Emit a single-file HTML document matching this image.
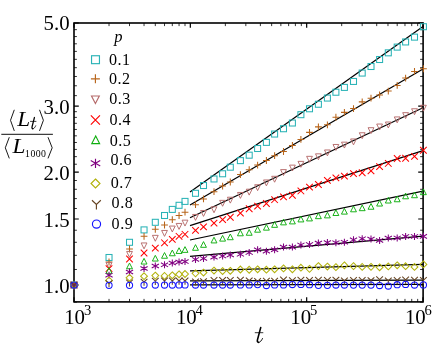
<!DOCTYPE html>
<html><head><meta charset="utf-8"><title>plot</title>
<style>html,body{margin:0;padding:0;background:#fff}body{width:436px;height:354px;overflow:hidden;font-family:"Liberation Serif",serif}svg{display:block;will-change:transform}</style>
</head><body>
<svg width="436" height="354" viewBox="0 0 436 354">
<rect width="436" height="354" fill="#fff"/>
<path d="M74 302v-4.7M74 23v4.7M190.33 302v-4.7M190.33 23v4.7M306.67 302v-4.7M306.67 23v4.7M423 302v-4.7M423 23v4.7M74 285h4.8M423 285h-4.8M74 218.99h4.8M423 218.99h-4.8M74 172.16h4.8M423 172.16h-4.8M74 106.16h4.8M423 106.16h-4.8M74 23h4.8M423 23h-4.8" stroke="#000" stroke-width="1.2" fill="none"/>
<path d="M109.02 302v-3.1M109.02 23v3.1M129.51 302v-3.1M129.51 23v3.1M144.04 302v-3.1M144.04 23v3.1M155.31 302v-3.1M155.31 23v3.1M164.52 302v-3.1M164.52 23v3.1M172.31 302v-3.1M172.31 23v3.1M179.06 302v-3.1M179.06 23v3.1M185.01 302v-3.1M185.01 23v3.1M225.35 302v-3.1M225.35 23v3.1M245.84 302v-3.1M245.84 23v3.1M260.37 302v-3.1M260.37 23v3.1M271.65 302v-3.1M271.65 23v3.1M280.86 302v-3.1M280.86 23v3.1M288.65 302v-3.1M288.65 23v3.1M295.39 302v-3.1M295.39 23v3.1M301.34 302v-3.1M301.34 23v3.1M341.69 302v-3.1M341.69 23v3.1M362.17 302v-3.1M362.17 23v3.1M376.71 302v-3.1M376.71 23v3.1M387.98 302v-3.1M387.98 23v3.1M397.19 302v-3.1M397.19 23v3.1M404.98 302v-3.1M404.98 23v3.1M411.73 302v-3.1M411.73 23v3.1M417.68 302v-3.1M417.68 23v3.1M74 302.15h2.9M423 302.15h-2.9M74 269.48h2.9M423 269.48h-2.9M74 255.32h2.9M423 255.32h-2.9M74 242.29h2.9M423 242.29h-2.9M74 230.23h2.9M423 230.23h-2.9M74 208.49h2.9M423 208.49h-2.9M74 198.62h2.9M423 198.62h-2.9M74 189.31h2.9M423 189.31h-2.9M74 180.51h2.9M423 180.51h-2.9M74 164.22h2.9M423 164.22h-2.9M74 156.65h2.9M423 156.65h-2.9M74 149.41h2.9M423 149.41h-2.9M74 142.48h2.9M423 142.48h-2.9M74 135.84h2.9M423 135.84h-2.9M74 129.45h2.9M423 129.45h-2.9M74 123.31h2.9M423 123.31h-2.9M74 117.39h2.9M423 117.39h-2.9M74 111.68h2.9M423 111.68h-2.9M74 95.65h2.9M423 95.65h-2.9M74 85.78h2.9M423 85.78h-2.9M74 76.48h2.9M423 76.48h-2.9M74 67.68h2.9M423 67.68h-2.9M74 59.33h2.9M423 59.33h-2.9M74 51.38h2.9M423 51.38h-2.9M74 43.81h2.9M423 43.81h-2.9M74 36.57h2.9M423 36.57h-2.9M74 29.65h2.9M423 29.65h-2.9" stroke="#000" stroke-width="0.8" fill="none"/>
<rect x="74" y="23" width="349.1" height="278.9" fill="none" stroke="#000" stroke-width="1.6"/>
<path d="M190 192 L423 26.6" stroke="#000" stroke-width="1.25" fill="none"/>
<path d="M190 205 L423 69" stroke="#000" stroke-width="1.25" fill="none"/>
<path d="M190 217.8 L423 107.8" stroke="#000" stroke-width="1.25" fill="none"/>
<path d="M190 225.6 L423 150.7" stroke="#000" stroke-width="1.25" fill="none"/>
<path d="M190 240 L423 191.2" stroke="#000" stroke-width="1.25" fill="none"/>
<path d="M190 256.3 L423 236.1" stroke="#000" stroke-width="1.25" fill="none"/>
<path d="M190 270.9 L423 264.4" stroke="#000" stroke-width="1.25" fill="none"/>
<path d="M190 280.8 L423 280.1" stroke="#000" stroke-width="1.25" fill="none"/>
<path d="M190 284.8 L423 284.4" stroke="#000" stroke-width="1.25" fill="none"/>
<g stroke="#2ab3b6" stroke-width="1.05" fill="none"><rect x="71" y="282" width="6" height="6"/><rect x="106.02" y="254.5" width="6" height="6"/><rect x="126.51" y="239.3" width="6" height="6"/><rect x="141.04" y="226.9" width="6" height="6"/><rect x="152.31" y="219.3" width="6" height="6"/><rect x="161.52" y="212.5" width="6" height="6"/><rect x="169.31" y="206.4" width="6" height="6"/><rect x="176.06" y="202.3" width="6" height="6"/><rect x="182.01" y="198.4" width="6" height="6"/><rect x="192.5" y="190.3" width="6" height="6"/><rect x="200.5" y="182.52" width="6" height="6"/><rect x="211" y="175.96" width="6" height="6"/><rect x="219.6" y="170.76" width="6" height="6"/><rect x="227.3" y="164.19" width="6" height="6"/><rect x="237.4" y="157.62" width="6" height="6"/><rect x="246.2" y="152.18" width="6" height="6"/><rect x="254.6" y="145.51" width="6" height="6"/><rect x="263.4" y="139.37" width="6" height="6"/><rect x="271.6" y="131.04" width="6" height="6"/><rect x="280.5" y="125.73" width="6" height="6"/><rect x="289.4" y="120.01" width="6" height="6"/><rect x="297.9" y="111.68" width="6" height="6"/><rect x="306.5" y="105.77" width="6" height="6"/><rect x="315.4" y="101.25" width="6" height="6"/><rect x="324.4" y="95.06" width="6" height="6"/><rect x="332.9" y="89.23" width="6" height="6"/><rect x="341.4" y="84.4" width="6" height="6"/><rect x="350.5" y="78.44" width="6" height="6"/><rect x="359.2" y="70.06" width="6" height="6"/><rect x="368" y="63.51" width="6" height="6"/><rect x="376.6" y="56.51" width="6" height="6"/><rect x="385.3" y="49.83" width="6" height="6"/><rect x="394.2" y="44.11" width="6" height="6"/><rect x="402.6" y="38.95" width="6" height="6"/><rect x="411.5" y="34.13" width="6" height="6"/><rect x="420.4" y="23.72" width="6" height="6"/></g>
<g stroke="#b8651b" stroke-width="1.05" fill="none"><path d="M70.6 285H77.4M74 281.6V288.4"/><path d="M105.62 262H112.42M109.02 258.6V265.4"/><path d="M126.11 249H132.91M129.51 245.6V252.4"/><path d="M140.64 236.3H147.44M144.04 232.9V239.7"/><path d="M151.91 229.3H158.71M155.31 225.9V232.7"/><path d="M161.12 225H167.92M164.52 221.6V228.4"/><path d="M168.91 219.7H175.71M172.31 216.3V223.1"/><path d="M175.66 215.5H182.46M179.06 212.1V218.9"/><path d="M181.61 212.2H188.41M185.01 208.8V215.6"/><path d="M192.1 204.69H198.9M195.5 201.29V208.09"/><path d="M200.1 198.92H206.9M203.5 195.52V202.32"/><path d="M210.6 191.69H217.4M214 188.29V195.09"/><path d="M219.2 186.07H226M222.6 182.67V189.47"/><path d="M226.9 181.98H233.7M230.3 178.58V185.38"/><path d="M237 174.58H243.8M240.4 171.18V177.98"/><path d="M245.8 169.65H252.6M249.2 166.25V173.05"/><path d="M254.2 165.04H261M257.6 161.64V168.44"/><path d="M263 160.51H269.8M266.4 157.11V163.91"/><path d="M271.2 155.72H278M274.6 152.32V159.12"/><path d="M280.1 151.52H286.9M283.5 148.12V154.92"/><path d="M289 145.43H295.8M292.4 142.03V148.83"/><path d="M297.5 139.47H304.3M300.9 136.07V142.87"/><path d="M306.1 132.35H312.9M309.5 128.95V135.75"/><path d="M315 126.85H321.8M318.4 123.45V130.25"/><path d="M324 124.8H330.8M327.4 121.4V128.2"/><path d="M332.5 117.24H339.3M335.9 113.84V120.64"/><path d="M341 112.38H347.8M344.4 108.98V115.78"/><path d="M350.1 108.57H356.9M353.5 105.17V111.97"/><path d="M358.8 101.89H365.6M362.2 98.49V105.29"/><path d="M367.6 98.15H374.4M371 94.75V101.55"/><path d="M376.2 94.93H383M379.6 91.53V98.33"/><path d="M384.9 91.05H391.7M388.3 87.65V94.45"/><path d="M393.8 85.46H400.6M397.2 82.06V88.86"/><path d="M402.2 78.06H409M405.6 74.66V81.46"/><path d="M411.1 71.46H417.9M414.5 68.06V74.86"/><path d="M420 68.77H426.8M423.4 65.37V72.17"/></g>
<g stroke="#b56a6a" stroke-width="0.95" fill="none"><path d="M74 289.35L71.1 283.45L76.9 283.45Z"/><path d="M109.02 268.55L106.12 262.65L111.92 262.65Z"/><path d="M129.51 257.35L126.61 251.45L132.41 251.45Z"/><path d="M144.04 248.85L141.14 242.95L146.94 242.95Z"/><path d="M155.31 241.25L152.41 235.35L158.21 235.35Z"/><path d="M164.52 236.35L161.62 230.45L167.42 230.45Z"/><path d="M172.31 231.95L169.41 226.05L175.21 226.05Z"/><path d="M179.06 229.35L176.16 223.45L181.96 223.45Z"/><path d="M185.01 226.05L182.11 220.15L187.91 220.15Z"/><path d="M195.5 220.35L192.6 214.45L198.4 214.45Z"/><path d="M203.5 216.38L200.6 210.48L206.4 210.48Z"/><path d="M214 212.72L211.1 206.82L216.9 206.82Z"/><path d="M222.6 206.26L219.7 200.36L225.5 200.36Z"/><path d="M230.3 203.12L227.4 197.22L233.2 197.22Z"/><path d="M240.4 198.36L237.5 192.46L243.3 192.46Z"/><path d="M249.2 195.1L246.3 189.2L252.1 189.2Z"/><path d="M257.6 190.64L254.7 184.74L260.5 184.74Z"/><path d="M266.4 185.88L263.5 179.98L269.3 179.98Z"/><path d="M274.6 182.21L271.7 176.31L277.5 176.31Z"/><path d="M283.5 175.51L280.6 169.61L286.4 169.61Z"/><path d="M292.4 171.01L289.5 165.11L295.3 165.11Z"/><path d="M300.9 167.29L298 161.39L303.8 161.39Z"/><path d="M309.5 162.23L306.6 156.33L312.4 156.33Z"/><path d="M318.4 159.73L315.5 153.83L321.3 153.83Z"/><path d="M327.4 155.88L324.5 149.98L330.3 149.98Z"/><path d="M335.9 150.37L333 144.47L338.8 144.47Z"/><path d="M344.4 148.06L341.5 142.16L347.3 142.16Z"/><path d="M353.5 144.86L350.6 138.96L356.4 138.96Z"/><path d="M362.2 138.65L359.3 132.75L365.1 132.75Z"/><path d="M371 133.6L368.1 127.7L373.9 127.7Z"/><path d="M379.6 129.94L376.7 124.04L382.5 124.04Z"/><path d="M388.3 127.93L385.4 122.03L391.2 122.03Z"/><path d="M397.2 122.83L394.3 116.93L400.1 116.93Z"/><path d="M405.6 118.56L402.7 112.66L408.5 112.66Z"/><path d="M414.5 114.66L411.6 108.76L417.4 108.76Z"/><path d="M423.4 111.16L420.5 105.26L426.3 105.26Z"/></g>
<g stroke="#ff0000" stroke-width="1.05" fill="none"><path d="M70.7 281.7L77.3 288.3M70.7 288.3L77.3 281.7"/><path d="M105.72 265.3L112.32 271.9M105.72 271.9L112.32 265.3"/><path d="M126.21 255.7L132.81 262.3M126.21 262.3L132.81 255.7"/><path d="M140.74 249.7L147.34 256.3M140.74 256.3L147.34 249.7"/><path d="M152.01 244.8L158.61 251.4M152.01 251.4L158.61 244.8"/><path d="M161.22 239.5L167.82 246.1M161.22 246.1L167.82 239.5"/><path d="M169.01 236.1L175.61 242.7M169.01 242.7L175.61 236.1"/><path d="M175.76 233L182.36 239.6M175.76 239.6L182.36 233"/><path d="M181.71 231L188.31 237.6M181.71 237.6L188.31 231"/><path d="M192.2 227.13L198.8 233.73M192.2 233.73L198.8 227.13"/><path d="M200.2 223.56L206.8 230.16M200.2 230.16L206.8 223.56"/><path d="M210.7 219.88L217.3 226.48M210.7 226.48L217.3 219.88"/><path d="M219.3 216.32L225.9 222.92M219.3 222.92L225.9 216.32"/><path d="M227 213.95L233.6 220.55M227 220.55L233.6 213.95"/><path d="M237.1 209.8L243.7 216.4M237.1 216.4L243.7 209.8"/><path d="M245.9 205.47L252.5 212.07M245.9 212.07L252.5 205.47"/><path d="M254.3 202.77L260.9 209.37M254.3 209.37L260.9 202.77"/><path d="M263.1 200.24L269.7 206.84M263.1 206.84L269.7 200.24"/><path d="M271.3 196.4L277.9 203M271.3 203L277.9 196.4"/><path d="M280.2 193.64L286.8 200.24M280.2 200.24L286.8 193.64"/><path d="M289.1 191.98L295.7 198.58M289.1 198.58L295.7 191.98"/><path d="M297.6 187.65L304.2 194.25M297.6 194.25L304.2 187.65"/><path d="M306.2 183.89L312.8 190.49M306.2 190.49L312.8 183.89"/><path d="M315.1 181.22L321.7 187.82M315.1 187.82L321.7 181.22"/><path d="M324.1 177.13L330.7 183.73M324.1 183.73L330.7 177.13"/><path d="M332.6 174.6L339.2 181.2M332.6 181.2L339.2 174.6"/><path d="M341.1 172.87L347.7 179.47M341.1 179.47L347.7 172.87"/><path d="M350.2 170.34L356.8 176.94M350.2 176.94L356.8 170.34"/><path d="M358.9 169.44L365.5 176.04M358.9 176.04L365.5 169.44"/><path d="M367.7 167.62L374.3 174.22M367.7 174.22L374.3 167.62"/><path d="M376.3 163.35L382.9 169.95M376.3 169.95L382.9 163.35"/><path d="M385 160.15L391.6 166.75M385 166.75L391.6 160.15"/><path d="M393.9 155.19L400.5 161.79M393.9 161.79L400.5 155.19"/><path d="M402.3 154.99L408.9 161.59M402.3 161.59L408.9 154.99"/><path d="M411.2 153.03L417.8 159.63M411.2 159.63L417.8 153.03"/><path d="M420.1 146.97L426.7 153.57M420.1 153.57L426.7 146.97"/></g>
<g stroke="#0fae0f" stroke-width="0.95" fill="none"><path d="M74 280.85L71.05 286.55L76.95 286.55Z"/><path d="M109.02 267.65L106.07 273.35L111.97 273.35Z"/><path d="M129.51 263.05L126.56 268.75L132.46 268.75Z"/><path d="M144.04 258.35L141.09 264.05L146.99 264.05Z"/><path d="M155.31 255.35L152.36 261.05L158.26 261.05Z"/><path d="M164.52 252.55L161.57 258.25L167.47 258.25Z"/><path d="M172.31 250.05L169.36 255.75L175.26 255.75Z"/><path d="M179.06 247.75L176.11 253.45L182.01 253.45Z"/><path d="M185.01 246.65L182.06 252.35L187.96 252.35Z"/><path d="M195.5 244.6L192.55 250.3L198.45 250.3Z"/><path d="M203.5 241.62L200.55 247.32L206.45 247.32Z"/><path d="M214 237.22L211.05 242.92L216.95 242.92Z"/><path d="M222.6 235.42L219.65 241.12L225.55 241.12Z"/><path d="M230.3 234.01L227.35 239.71L233.25 239.71Z"/><path d="M240.4 230.09L237.45 235.79L243.35 235.79Z"/><path d="M249.2 229.55L246.25 235.25L252.15 235.25Z"/><path d="M257.6 226.49L254.65 232.19L260.55 232.19Z"/><path d="M266.4 224.45L263.45 230.15L269.35 230.15Z"/><path d="M274.6 221.63L271.65 227.33L277.55 227.33Z"/><path d="M283.5 219.17L280.55 224.87L286.45 224.87Z"/><path d="M292.4 218.2L289.45 223.9L295.35 223.9Z"/><path d="M300.9 216.22L297.95 221.92L303.85 221.92Z"/><path d="M309.5 215.22L306.55 220.92L312.45 220.92Z"/><path d="M318.4 212.96L315.45 218.66L321.35 218.66Z"/><path d="M327.4 212.17L324.45 217.87L330.35 217.87Z"/><path d="M335.9 209.79L332.95 215.49L338.85 215.49Z"/><path d="M344.4 208.41L341.45 214.11L347.35 214.11Z"/><path d="M353.5 206.11L350.55 211.81L356.45 211.81Z"/><path d="M362.2 204.98L359.25 210.68L365.15 210.68Z"/><path d="M371 203.54L368.05 209.24L373.95 209.24Z"/><path d="M379.6 200.34L376.65 206.04L382.55 206.04Z"/><path d="M388.3 197.32L385.35 203.02L391.25 203.02Z"/><path d="M397.2 196.05L394.25 201.75L400.15 201.75Z"/><path d="M405.6 193.09L402.65 198.79L408.55 198.79Z"/><path d="M414.5 192.03L411.55 197.73L417.45 197.73Z"/><path d="M423.4 188.97L420.45 194.67L426.35 194.67Z"/></g>
<g stroke="#800080" stroke-width="1.05" fill="none"><path d="M74 281.5V288.5M70.4 282.95L77.6 287.05M70.4 287.05L77.6 282.95"/><path d="M109.02 271.7V278.7M105.42 273.15L112.62 277.25M105.42 277.25L112.62 273.15"/><path d="M129.51 268.5V275.5M125.91 269.95L133.11 274.05M125.91 274.05L133.11 269.95"/><path d="M144.04 265V272M140.44 266.45L147.64 270.55M140.44 270.55L147.64 266.45"/><path d="M155.31 262.5V269.5M151.71 263.95L158.91 268.05M151.71 268.05L158.91 263.95"/><path d="M164.52 261.3V268.3M160.92 262.75L168.12 266.85M160.92 266.85L168.12 262.75"/><path d="M172.31 259.5V266.5M168.71 260.95L175.91 265.05M168.71 265.05L175.91 260.95"/><path d="M179.06 258.5V265.5M175.46 259.95L182.66 264.05M175.46 264.05L182.66 259.95"/><path d="M185.01 258.1V265.1M181.41 259.55L188.61 263.65M181.41 263.65L188.61 259.55"/><path d="M195.5 255.92V262.92M191.9 257.37L199.1 261.47M191.9 261.47L199.1 257.37"/><path d="M203.5 254.93V261.93M199.9 256.38L207.1 260.48M199.9 260.48L207.1 256.38"/><path d="M214 253.62V260.62M210.4 255.07L217.6 259.17M210.4 259.17L217.6 255.07"/><path d="M222.6 252.57V259.57M219 254.02L226.2 258.12M219 258.12L226.2 254.02"/><path d="M230.3 251.51V258.51M226.7 252.96L233.9 257.06M226.7 257.06L233.9 252.96"/><path d="M240.4 250.83V257.83M236.8 252.28L244 256.38M236.8 256.38L244 252.28"/><path d="M249.2 249.07V256.07M245.6 250.52L252.8 254.62M245.6 254.62L252.8 250.52"/><path d="M257.6 246.34V253.34M254 247.79L261.2 251.89M254 251.89L261.2 247.79"/><path d="M266.4 247.68V254.68M262.8 249.13L270 253.23M262.8 253.23L270 249.13"/><path d="M274.6 246.27V253.27M271 247.72L278.2 251.82M271 251.82L278.2 247.72"/><path d="M283.5 243.59V250.59M279.9 245.04L287.1 249.14M279.9 249.14L287.1 245.04"/><path d="M292.4 243.62V250.62M288.8 245.07L296 249.17M288.8 249.17L296 245.07"/><path d="M300.9 241.39V248.39M297.3 242.84L304.5 246.94M297.3 246.94L304.5 242.84"/><path d="M309.5 240.94V247.94M305.9 242.39L313.1 246.49M305.9 246.49L313.1 242.39"/><path d="M318.4 239.47V246.47M314.8 240.92L322 245.02M314.8 245.02L322 240.92"/><path d="M327.4 239.09V246.09M323.8 240.54L331 244.64M323.8 244.64L331 240.54"/><path d="M335.9 239.15V246.15M332.3 240.6L339.5 244.7M332.3 244.7L339.5 240.6"/><path d="M344.4 238.71V245.71M340.8 240.16L348 244.26M340.8 244.26L348 240.16"/><path d="M353.5 236.33V243.33M349.9 237.78L357.1 241.88M349.9 241.88L357.1 237.78"/><path d="M362.2 235.17V242.17M358.6 236.62L365.8 240.72M358.6 240.72L365.8 236.62"/><path d="M371 235.61V242.61M367.4 237.06L374.6 241.16M367.4 241.16L374.6 237.06"/><path d="M379.6 236.96V243.96M376 238.41L383.2 242.51M376 242.51L383.2 238.41"/><path d="M388.3 234.61V241.61M384.7 236.06L391.9 240.16M384.7 240.16L391.9 236.06"/><path d="M397.2 234.44V241.44M393.6 235.89L400.8 239.99M393.6 239.99L400.8 235.89"/><path d="M405.6 232.91V239.91M402 234.36L409.2 238.46M402 238.46L409.2 234.36"/><path d="M414.5 232.94V239.94M410.9 234.39L418.1 238.49M410.9 238.49L418.1 234.39"/><path d="M423.4 232.87V239.87M419.8 234.32L427 238.42M419.8 238.42L427 234.32"/></g>
<g stroke="#b2b20c" stroke-width="1.05" fill="none"><path d="M74 281.6L77.4 285L74 288.4L70.6 285Z"/><path d="M109.02 277L112.42 280.4L109.02 283.8L105.62 280.4Z"/><path d="M129.51 274.4L132.91 277.8L129.51 281.2L126.11 277.8Z"/><path d="M144.04 272.8L147.44 276.2L144.04 279.6L140.64 276.2Z"/><path d="M155.31 272.2L158.71 275.6L155.31 279L151.91 275.6Z"/><path d="M164.52 272.5L167.92 275.9L164.52 279.3L161.12 275.9Z"/><path d="M172.31 271.9L175.71 275.3L172.31 278.7L168.91 275.3Z"/><path d="M179.06 270.9L182.46 274.3L179.06 277.7L175.66 274.3Z"/><path d="M185.01 270.6L188.41 274L185.01 277.4L181.61 274Z"/><path d="M195.5 269.95L198.9 273.35L195.5 276.75L192.1 273.35Z"/><path d="M203.5 269.12L206.9 272.52L203.5 275.92L200.1 272.52Z"/><path d="M214 267.13L217.4 270.53L214 273.93L210.6 270.53Z"/><path d="M222.6 267.69L226 271.09L222.6 274.49L219.2 271.09Z"/><path d="M230.3 267.38L233.7 270.78L230.3 274.18L226.9 270.78Z"/><path d="M240.4 266.09L243.8 269.49L240.4 272.89L237 269.49Z"/><path d="M249.2 266.35L252.6 269.75L249.2 273.15L245.8 269.75Z"/><path d="M257.6 265.91L261 269.31L257.6 272.71L254.2 269.31Z"/><path d="M266.4 266.27L269.8 269.67L266.4 273.07L263 269.67Z"/><path d="M274.6 265.94L278 269.34L274.6 272.74L271.2 269.34Z"/><path d="M283.5 264.99L286.9 268.39L283.5 271.79L280.1 268.39Z"/><path d="M292.4 265.94L295.8 269.34L292.4 272.74L289 269.34Z"/><path d="M300.9 264.31L304.3 267.71L300.9 271.11L297.5 267.71Z"/><path d="M309.5 265.47L312.9 268.87L309.5 272.27L306.1 268.87Z"/><path d="M318.4 262.72L321.8 266.12L318.4 269.52L315 266.12Z"/><path d="M327.4 263.17L330.8 266.57L327.4 269.97L324 266.57Z"/><path d="M335.9 263.73L339.3 267.13L335.9 270.53L332.5 267.13Z"/><path d="M344.4 261.99L347.8 265.39L344.4 268.79L341 265.39Z"/><path d="M353.5 262.74L356.9 266.14L353.5 269.54L350.1 266.14Z"/><path d="M362.2 263.5L365.6 266.9L362.2 270.3L358.8 266.9Z"/><path d="M371 263.45L374.4 266.85L371 270.25L367.6 266.85Z"/><path d="M379.6 263.91L383 267.31L379.6 270.71L376.2 267.31Z"/><path d="M388.3 263.07L391.7 266.47L388.3 269.87L384.9 266.47Z"/><path d="M397.2 261.92L400.6 265.32L397.2 268.72L393.8 265.32Z"/><path d="M405.6 262.79L409 266.19L405.6 269.59L402.2 266.19Z"/><path d="M414.5 263.54L417.9 266.94L414.5 270.34L411.1 266.94Z"/><path d="M423.4 260.99L426.8 264.39L423.4 267.79L420 264.39Z"/></g>
<g stroke="#654321" stroke-width="1.05" fill="none"><path d="M74 285V288.8M70.65 281.8L74 285L77.35 281.8"/><path d="M109.02 283.5V287.3M105.67 280.3L109.02 283.5L112.37 280.3"/><path d="M129.51 282.8V286.6M126.16 279.6L129.51 282.8L132.86 279.6"/><path d="M144.04 282V285.8M140.69 278.8L144.04 282L147.39 278.8"/><path d="M155.31 281.1V284.9M151.96 277.9L155.31 281.1L158.66 277.9"/><path d="M164.52 280.9V284.7M161.17 277.7L164.52 280.9L167.87 277.7"/><path d="M172.31 280.9V284.7M168.96 277.7L172.31 280.9L175.66 277.7"/><path d="M179.06 280.9V284.7M175.71 277.7L179.06 280.9L182.41 277.7"/><path d="M185.01 280.9V284.7M181.66 277.7L185.01 280.9L188.36 277.7"/><path d="M195.5 281.78V285.58M192.15 278.58L195.5 281.78L198.85 278.58"/><path d="M203.5 281.46V285.26M200.15 278.26L203.5 281.46L206.85 278.26"/><path d="M214 280.33V284.13M210.65 277.13L214 280.33L217.35 277.13"/><path d="M222.6 280.4V284.2M219.25 277.2L222.6 280.4L225.95 277.2"/><path d="M230.3 280.38V284.18M226.95 277.18L230.3 280.38L233.65 277.18"/><path d="M240.4 280.15V283.95M237.05 276.95L240.4 280.15L243.75 276.95"/><path d="M249.2 280.72V284.52M245.85 277.52L249.2 280.72L252.55 277.52"/><path d="M257.6 281.4V285.2M254.25 278.2L257.6 281.4L260.95 278.2"/><path d="M266.4 281.07V284.87M263.05 277.87L266.4 281.07L269.75 277.87"/><path d="M274.6 281.05V284.85M271.25 277.85L274.6 281.05L277.95 277.85"/><path d="M283.5 279.92V283.72M280.15 276.72L283.5 279.92L286.85 276.72"/><path d="M292.4 280.59V284.39M289.05 277.39L292.4 280.59L295.75 277.39"/><path d="M300.9 280.07V283.87M297.55 276.87L300.9 280.07L304.25 276.87"/><path d="M309.5 280.44V284.24M306.15 277.24L309.5 280.44L312.85 277.24"/><path d="M318.4 280.01V283.81M315.05 276.81L318.4 280.01L321.75 276.81"/><path d="M327.4 280.39V284.19M324.05 277.19L327.4 280.39L330.75 277.19"/><path d="M335.9 279.96V283.76M332.55 276.76L335.9 279.96L339.25 276.76"/><path d="M344.4 280.94V284.74M341.05 277.74L344.4 280.94L347.75 277.74"/><path d="M353.5 280.31V284.11M350.15 277.11L353.5 280.31L356.85 277.11"/><path d="M362.2 280.28V284.08M358.85 277.08L362.2 280.28L365.55 277.08"/><path d="M371 280.46V284.26M367.65 277.26L371 280.46L374.35 277.26"/><path d="M379.6 279.53V283.33M376.25 276.33L379.6 279.53L382.95 276.33"/><path d="M388.3 280.9V284.7M384.95 277.7L388.3 280.9L391.65 277.7"/><path d="M397.2 280.38V284.18M393.85 277.18L397.2 280.38L400.55 277.18"/><path d="M405.6 279.85V283.65M402.25 276.65L405.6 279.85L408.95 276.65"/><path d="M414.5 280.13V283.93M411.15 276.93L414.5 280.13L417.85 276.93"/><path d="M423.4 280.3V284.1M420.05 277.1L423.4 280.3L426.75 277.1"/></g>
<g stroke="#1414ff" stroke-width="1.05" fill="none"><circle cx="74" cy="285" r="3.1"/><circle cx="109.02" cy="285.3" r="3.1"/><circle cx="129.51" cy="285.3" r="3.1"/><circle cx="144.04" cy="285" r="3.1"/><circle cx="155.31" cy="285" r="3.1"/><circle cx="164.52" cy="285" r="3.1"/><circle cx="172.31" cy="285" r="3.1"/><circle cx="179.06" cy="284.9" r="3.1"/><circle cx="185.01" cy="284.9" r="3.1"/><circle cx="195.5" cy="285" r="3.1"/><circle cx="203.5" cy="285" r="3.1"/><circle cx="214" cy="285" r="3.1"/><circle cx="222.6" cy="285" r="3.1"/><circle cx="230.3" cy="285" r="3.1"/><circle cx="240.4" cy="284.9" r="3.1"/><circle cx="249.2" cy="284.9" r="3.1"/><circle cx="257.6" cy="284.6" r="3.1"/><circle cx="266.4" cy="285.5" r="3.1"/><circle cx="274.6" cy="284.9" r="3.1"/><circle cx="283.5" cy="284.9" r="3.1"/><circle cx="292.4" cy="284.5" r="3.1"/><circle cx="300.9" cy="284.4" r="3.1"/><circle cx="309.5" cy="284.7" r="3.1"/><circle cx="318.4" cy="285.3" r="3.1"/><circle cx="327.4" cy="285.3" r="3.1"/><circle cx="335.9" cy="285" r="3.1"/><circle cx="344.4" cy="285" r="3.1"/><circle cx="353.5" cy="285.05" r="3.1"/><circle cx="362.2" cy="285.1" r="3.1"/><circle cx="371" cy="285.1" r="3.1"/><circle cx="379.6" cy="285.5" r="3.1"/><circle cx="388.3" cy="286" r="3.1"/><circle cx="397.2" cy="284.7" r="3.1"/><circle cx="405.6" cy="284.4" r="3.1"/><circle cx="414.5" cy="285" r="3.1"/><circle cx="423.4" cy="284.9" r="3.1"/></g>
<g stroke="#2ab3b6" stroke-width="1.15" fill="none"><rect x="91.54" y="55.74" width="7.92" height="7.92"/></g>
<text x="108.9" y="64.7" font-family="Liberation Serif" font-size="16.1" letter-spacing="0.5">0.1</text>
<g stroke="#b8651b" stroke-width="1.15" fill="none"><path d="M90.91 78.8H99.89M95.4 74.31V83.29"/></g>
<text x="109" y="84.3" font-family="Liberation Serif" font-size="16.1" letter-spacing="0.5">0.2</text>
<g stroke="#b56a6a" stroke-width="1.15" fill="none"><path d="M95.4 103.5L91.5 96L99.3 96Z"/></g>
<text x="109.3" y="104" font-family="Liberation Serif" font-size="16.1" letter-spacing="0.5">0.3</text>
<g stroke="#ff0000" stroke-width="1.15" fill="none"><path d="M90.85 115.45L99.95 124.55M90.85 124.55L99.95 115.45"/></g>
<text x="109.5" y="124.9" font-family="Liberation Serif" font-size="16.1" letter-spacing="0.5">0.4</text>
<g stroke="#0fae0f" stroke-width="1.15" fill="none"><path d="M95.7 136L91.8 143.6L99.6 143.6Z"/></g>
<text x="109.8" y="145.5" font-family="Liberation Serif" font-size="16.1" letter-spacing="0.5">0.5</text>
<g stroke="#800080" stroke-width="1.15" fill="none"><path d="M95.5 158.68V167.92M90.75 160.59L100.25 166.01M90.75 166.01L100.25 160.59"/></g>
<text x="110.4" y="165.4" font-family="Liberation Serif" font-size="16.1" letter-spacing="0.5">0.6</text>
<g stroke="#b2b20c" stroke-width="1.15" fill="none"><path d="M95.5 179.01L99.99 183.5L95.5 187.99L91.01 183.5Z"/></g>
<text x="110.7" y="187.7" font-family="Liberation Serif" font-size="16.1" letter-spacing="0.5">0.7</text>
<g stroke="#654321" stroke-width="1.15" fill="none"><path d="M96.4 204.5V209.52M91.98 200.28L96.4 204.5L100.82 200.28"/></g>
<text x="111.6" y="208.4" font-family="Liberation Serif" font-size="16.1" letter-spacing="0.5">0.8</text>
<g stroke="#1414ff" stroke-width="1.15" fill="none"><circle cx="96.5" cy="224.1" r="4.09"/></g>
<text x="111.6" y="229.3" font-family="Liberation Serif" font-size="16.1" letter-spacing="0.5">0.9</text>
<text x="114.2" y="42.3" font-family="Liberation Serif" font-style="italic" font-size="16.5">p</text>
<text x="69.6" y="30.4" text-anchor="end" font-family="Liberation Serif" font-size="20.8">5.0</text>
<text x="69.6" y="113.7" text-anchor="end" font-family="Liberation Serif" font-size="20.8">3.0</text>
<text x="69.6" y="179.6" text-anchor="end" font-family="Liberation Serif" font-size="20.8">2.0</text>
<text x="69.6" y="226.9" text-anchor="end" font-family="Liberation Serif" font-size="20.8">1.5</text>
<text x="69.6" y="293.1" text-anchor="end" font-family="Liberation Serif" font-size="20.8">1.0</text>
<text x="64.2" y="323.9" font-family="Liberation Serif" font-size="20.8">10<tspan dy="-8.8" dx="-1.1" font-size="14.6">3</tspan></text>
<text x="175.9" y="323.9" font-family="Liberation Serif" font-size="20.8">10<tspan dy="-8.8" dx="-1.1" font-size="14.6">4</tspan></text>
<text x="290.3" y="323.9" font-family="Liberation Serif" font-size="20.8">10<tspan dy="-8.8" dx="-1.1" font-size="14.6">5</tspan></text>
<text x="404.9" y="323.9" font-family="Liberation Serif" font-size="20.8">10<tspan dy="-8.8" dx="-1.1" font-size="14.6">6</tspan></text>
<g fill="none" stroke="#000" stroke-linecap="round"><path d="M260.7 327.6L257.5 339.6C257 341.6 257.6 342.4 258.6 342.4" stroke-width="1.6"/><path d="M258.6 342.4C260.2 342.4 261.6 340.6 262.5 338.5" stroke-width="0.9"/><path d="M255.2 332.7H262.9" stroke-width="0.8"/></g>
<path d="M1.3 134.3H52.9" stroke="#000" stroke-width="0.95"/>
<path d="M14.3 109.8L10.5 120.3L14.3 130.9M39.5 109.8L43.4 120.3L39.5 130.9" stroke="#000" stroke-width="0.9" fill="none"/>
<text transform="translate(17.2 125.7) scale(1.08 1)" font-family="Liberation Serif" font-style="italic" font-size="21.5">L</text>
<g transform="translate(30.3 117.1) scale(0.72 0.755)" fill="none" stroke="#000" stroke-linecap="round"><path d="M5.7 0.6L2.5 12.6C2 14.6 2.6 15.4 3.6 15.4" stroke-width="1.8"/><path d="M3.6 15.4C5.2 15.4 6.6 13.6 7.5 11.5" stroke-width="1.05"/><path d="M0.2 5.7H7.9" stroke-width="1.0"/></g>
<path d="M9.3 137.2L5.3 147.8L9.3 158.4M48 137.2L52.2 147.8L48 158.4" stroke="#000" stroke-width="0.9" fill="none"/>
<text transform="translate(12.4 152.7) scale(1.08 1)" font-family="Liberation Serif" font-style="italic" font-size="21.5">L</text>
<text x="25.1" y="157.3" font-family="Liberation Serif" font-size="9.8" letter-spacing="0.4">1000</text>
</svg>
</body></html>
